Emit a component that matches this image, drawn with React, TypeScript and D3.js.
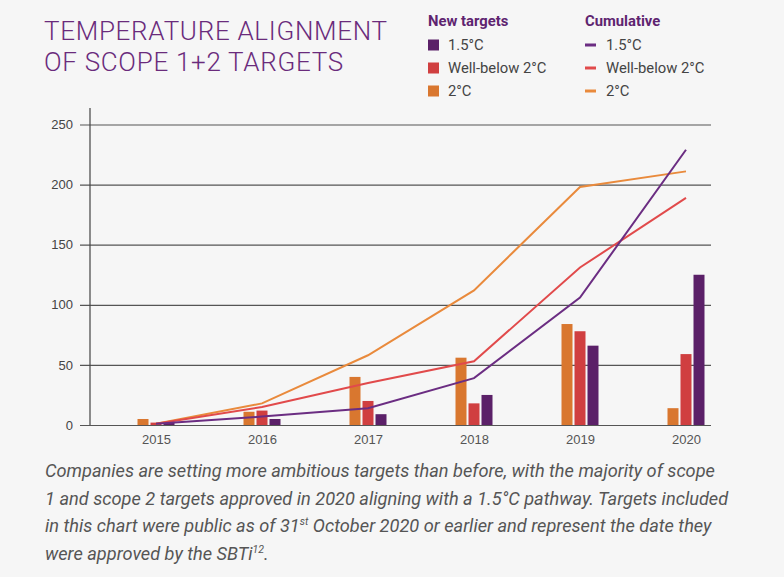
import { useEffect, useMemo, useRef } from "react";
import * as d3 from "d3";

const WIDTH = 784;
const HEIGHT = 577;
const PLOT = { left: 80, axisX: 90, right: 711, top: 108, bottom: 425 };

const years = ["2015", "2016", "2017", "2018", "2019", "2020"];
const seriesKeys = ["2°C", "Well-below 2°C", "1.5°C"];

// new targets per year
const newTwo = [5, 11, 40, 56, 84, 14];
const newWellBelow = [2, 12, 20, 18, 78, 59];
const newOnePointFive = [2, 5, 9, 25, 66, 125];

// cumulative targets
const cumTwo = [1, 18, 58, 112, 198, 211];
const cumWellBelow = [1, 15, 35, 53, 131, 189];
const cumOnePointFive = [1, 7, 14, 39, 106, 229];

const yTicks = [0, 50, 100, 150, 200, 250];

const BAR_COLORS: Record<string, string> = {
  "2°C": "#d9772f",
  "Well-below 2°C": "#d03f40",
  "1.5°C": "#5b2068",
};
const LINE_COLORS: Record<string, string> = {
  "2°C": "#e98a3c",
  "Well-below 2°C": "#e14a4b",
  "1.5°C": "#6b2d82",
};

const legendItems = ["1.5°C", "Well-below 2°C", "2°C"];

const captionLines = [
  "Companies are setting more ambitious targets than before, with the majority of scope",
  "1 and scope 2 targets approved in 2020 aligning with a 1.5°C pathway. Targets included",
];

const App = () => {
  const axesRef = useRef<SVGGElement>(null);

  const newData: Record<string, number[]> = {
    "2°C": newTwo,
    "Well-below 2°C": newWellBelow,
    "1.5°C": newOnePointFive,
  };
  const cumData: Record<string, number[]> = {
    "2°C": cumTwo,
    "Well-below 2°C": cumWellBelow,
    "1.5°C": cumOnePointFive,
  };

  const yScale = useMemo(
    () => d3.scaleLinear().domain([0, 250]).range([PLOT.bottom, 124.5]),
    []
  );
  const xScale = useMemo(() => d3.scalePoint().domain(years).range([156, 686]), []);
  const innerScale = useMemo(
    () => d3.scaleBand().domain(seriesKeys).range([-18.5, 18.5]).paddingInner(0.154),
    []
  );

  useEffect(() => {
    const g = d3.select(axesRef.current);
    g.selectAll("*").remove();

    const yAxis = g
      .append("g")
      .attr("transform", `translate(${PLOT.right},0)`)
      .call(
        d3
          .axisLeft(yScale)
          .tickValues(yTicks)
          .tickSize(PLOT.right - PLOT.left)
          .tickPadding(7)
      );
    yAxis.select(".domain").remove();
    yAxis.selectAll("line").attr("stroke", "#555").attr("stroke-width", 1.2);
    yAxis
      .selectAll("text")
      .attr("fill", "#444")
      .style("font-family", "'Liberation Sans', Arial, sans-serif")
      .style("font-size", "13px");

    const xAxis = g
      .append("g")
      .attr("transform", `translate(0,${PLOT.bottom})`)
      .call(d3.axisBottom(xScale).tickSize(0).tickPadding(10));
    xAxis.select(".domain").remove();
    xAxis
      .selectAll("text")
      .attr("fill", "#555")
      .style("font-family", "'Liberation Sans', Arial, sans-serif")
      .style("font-size", "13px");
  }, [xScale, yScale]);

  const line = d3
    .line<number>()
    .x((_, i) => xScale(years[i]) as number)
    .y((d) => yScale(d));

  const bars = years.flatMap((yr, i) =>
    seriesKeys.map((k) => {
      const v = newData[k][i];
      return (
        <rect
          key={yr + k}
          x={(xScale(yr) as number) + (innerScale(k) as number)}
          y={yScale(v)}
          width={innerScale.bandwidth()}
          height={PLOT.bottom - yScale(v)}
          fill={BAR_COLORS[k]}
        />
      );
    })
  );

  const lines = seriesKeys.map((k) => (
    <path
      key={k}
      d={line(cumData[k]) ?? ""}
      fill="none"
      stroke={LINE_COLORS[k]}
      strokeWidth={2}
    />
  ));

  const legendFont = "Roboto, 'Liberation Sans', sans-serif";

  return (
    <div style={{ position: "absolute", left: 0, top: 0 }}>
      <svg width={WIDTH} height={HEIGHT} style={{ display: "block", background: "#f6f6f6" }}>
        {/* title */}
        <g
          fill="#6a2b7c"
          fontFamily={legendFont}
          fontWeight={300}
          fontSize={26}
          letterSpacing={0.7}
        >
          <text x={44} y={40}>TEMPERATURE ALIGNMENT</text>
          <text x={44} y={71}>OF SCOPE 1+2 TARGETS</text>
        </g>

        {/* legend */}
        <g fontFamily={legendFont} fontSize={14.8}>
          <text x={428} y={26} fill="#5e2470" fontWeight={700}>New targets</text>
          <text x={585} y={26} fill="#5e2470" fontWeight={700}>Cumulative</text>
          {legendItems.map((k, i) => (
            <g key={k} transform={`translate(0,${45 + i * 23})`}>
              <rect x={428} y={-5.5} width={11} height={11} fill={BAR_COLORS[k]} />
              <text x={448} y={5} fill="#444">{k}</text>
              <rect x={585} y={-1.5} width={11} height={3} fill={LINE_COLORS[k]} />
              <text x={606} y={5} fill="#444">{k}</text>
            </g>
          ))}
        </g>

        {/* axes and gridlines */}
        <g ref={axesRef} />
        <line
          x1={PLOT.axisX}
          x2={PLOT.axisX}
          y1={PLOT.top}
          y2={PLOT.bottom}
          stroke="#444"
          strokeWidth={1.2}
        />

        {bars}
        {lines}

        {/* caption */}
        <g fontFamily={legendFont} fontStyle="italic" fontSize={18.2} fill="#555">
          {captionLines.map((t, i) => (
            <text key={i} x={45} y={477 + i * 27.5}>{t}</text>
          ))}
          <text x={45} y={532}>
            in this chart were public as of 31
            <tspan fontSize={10.5} dy={-7}>st</tspan>
            <tspan dy={7}> October 2020 or earlier and represent the date they</tspan>
          </text>
          <text x={45} y={559.5}>
            were approved by the SBTi
            <tspan fontSize={10.5} dy={-7}>12</tspan>
            <tspan dy={7}>.</tspan>
          </text>
        </g>
      </svg>
    </div>
  );
};

export default App;
